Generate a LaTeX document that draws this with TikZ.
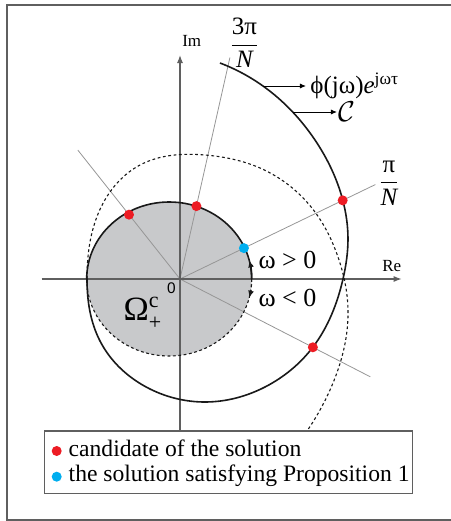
\documentclass[tikz,border=0pt]{standalone}
\usepackage{fontspec}
\setmainfont{Liberation Serif}
\newfontfamily\plainsans{Liberation Sans}
\usepackage{tikz}
\usetikzlibrary{arrows.meta, positioning, calc, hobby}
\usepackage{xcolor}
\definecolor{dotred}{RGB}{237,28,36}
\definecolor{dotblue}{RGB}{0,174,239}
\definecolor{diskgray}{RGB}{200,201,203}
\definecolor{raygray}{RGB}{150,150,150}
\definecolor{axisgray}{RGB}{95,95,95}
\tikzset{
    frame/.style={draw=axisgray, line width=0.75pt},
    axis/.style={-{Latex[length=4pt, width=3pt]}, draw=axisgray, line width=0.6pt},
    ray/.style={draw=raygray, line width=0.4pt},
    locus/.style={draw=black!90, line width=0.8pt},
    mirror/.style={draw=black!90, line width=0.55pt, dash pattern=on 1.4pt off 1.3pt},
    candidate/.style={circle, fill=dotred, inner sep=0pt, minimum size=5pt},
    solution/.style={circle, fill=dotblue, inner sep=0pt, minimum size=5pt},
    pointer/.style={-{Latex[length=3pt, width=2.6pt]}, line width=0.5pt},
    axlabel/.style={font=\fontsize{8.5}{10}\selectfont, inner sep=0pt},
    biglabel/.style={font=\fontsize{12.5}{14}\selectfont, inner sep=0pt},
    legendbox/.style={
        rectangle, draw=axisgray, fill=white, line width=0.6pt,
        minimum width=184.2pt, minimum height=31.15pt, inner sep=0pt
    },
    legtext/.style={
        font=\fontsize{11.8}{14}\selectfont, inner sep=0pt,
        text height=0.7em, text depth=0.2em
    }
}

\begin{document}
\begin{tikzpicture}[x=0.5pt, y=0.5pt]
    \useasboundingbox (-180,-242) rectangle (271,279);
    \draw[frame] (-173,-241) rectangle (290,274);

    \fill[diskgray] (-10.8,0) ellipse [x radius=82.5, y radius=77];

    \coordinate (O) at (0,0);
    \coordinate (r5) at (128.4:164.5);
    \coordinate (r3) at (77.3:227);
    \coordinate (r1) at (25.8:217);
    \coordinate (rm) at (-27.2:214);
    \draw[ray] (O) -- (r5);
    \draw[ray] (O) -- (r3);
    \draw[ray] (O) -- (r1);
    \draw[ray] (O) -- (rm);

    \coordinate (reL) at (-138.3,0);
    \coordinate (reR) at (221.7,0);
    \coordinate (imB) at (0,-152);
    \coordinate (imT) at (0,224);
    \draw[axis] (reL) -- (reR);
    \draw[axis] (imB) -- (imT);

    \draw[mirror, use Hobby shortcut] ([out angle=90]-93,0) .. (-82,65) .. (-40,114)
        .. (25,124) .. (80,111) .. (135,67) .. (158,22) .. (168,-30)
        .. (150,-111) .. (105,-180);
    \draw[mirror] (71.7,0) arc[start angle=0, end angle=-180, x radius=82.5, y radius=77];
    \draw[mirror, -{Latex[length=3.5pt, width=3pt]}] (71.7,0)
        arc[start angle=0, end angle=-14, x radius=82.5, y radius=77];

    \draw[locus] (71.7,0) arc[start angle=0, end angle=180, x radius=82.5, y radius=77];
    \draw[locus, -{Latex[length=3.5pt, width=3pt]}] (71.7,0)
        arc[start angle=0, end angle=14, x radius=82.5, y radius=77];
    \draw[locus, use Hobby shortcut] ([out angle=-90]-93,0) .. (-80,-62) .. (-30,-110)
        .. (25,-123) .. (85,-108) .. (133,-68) .. (163,0) .. (168,40)
        .. (163,78) .. (135,139) .. (83,193) .. (40,216);

    \node[candidate] (d5) at (128.4:82.1) {};
    \node[candidate] (d3) at (77.3:74.7) {};
    \node[solution] (d1) at (25.8:71) {};
    \node[candidate] (c1) at (25.8:180.7) {};
    \node[candidate] (cm) at (-27.2:149.4) {};

    \node[axlabel] (re) at (211.7,13) {Re};
    \node[axlabel] (im) at (11.7,238) {Im};
    \node[font=\plainsans\fontsize{7.7}{9}\selectfont, inner sep=0pt] (zero) at (-8.7,-9.3) {0};
    \node[font=\fontsize{17}{20}\selectfont, inner sep=0pt] (omega) at (-37,-34)
        {$\mbox{Ω}^{\mbox{\fontsize{11}{11}\selectfont c}}_{\mbox{\fontsize{11}{11}\selectfont +}}$};
    \node[biglabel, font=\fontsize{13}{15}\selectfont] (wpos) at (107.5,19.5) {ω > 0};
    \node[biglabel, font=\fontsize{13}{15}\selectfont] (wneg) at (107.5,-19) {ω < 0};
    \node[font=\fontsize{12.5}{15}\selectfont, inner sep=0pt] (frac3) at (64.5,236)
        {$\displaystyle\frac{\mbox{3π}}{\mbox{\itshape N}}$};
    \node[font=\fontsize{12.5}{15}\selectfont, inner sep=0pt] (frac1) at (209,96)
        {$\displaystyle\frac{\mbox{π}}{\mbox{\itshape N}}$};

    \coordinate (p1) at (83,193);
    \coordinate (p2) at (113,167);
    \node[biglabel, right=23.5pt of p1] (phi) {ϕ(jω)\textit{e}\textsuperscript{jωτ}};
    \node[font=\fontsize{14}{16}\selectfont, inner sep=0pt, right=22.5pt of p2] (curveC) {$\mathcal{C}$};
    \draw[pointer, shorten >=2pt] (p1) -- (phi.west);
    \draw[pointer, shorten >=0.5pt] (p2) -- (curveC.west);

    \node[legendbox] (legend) at (48.5,-183.15) {};
    \node[candidate] (lr) at (-123.3,-172) {};
    \node[solution] (lb) at (-123.3,-197.7) {};
    \node[legtext, right=3.1pt of lr] (lrtext) {candidate of the solution};
    \node[legtext, right=3.1pt of lb] (lbtext) {the solution satisfying Proposition 1};
\end{tikzpicture}
\end{document}
